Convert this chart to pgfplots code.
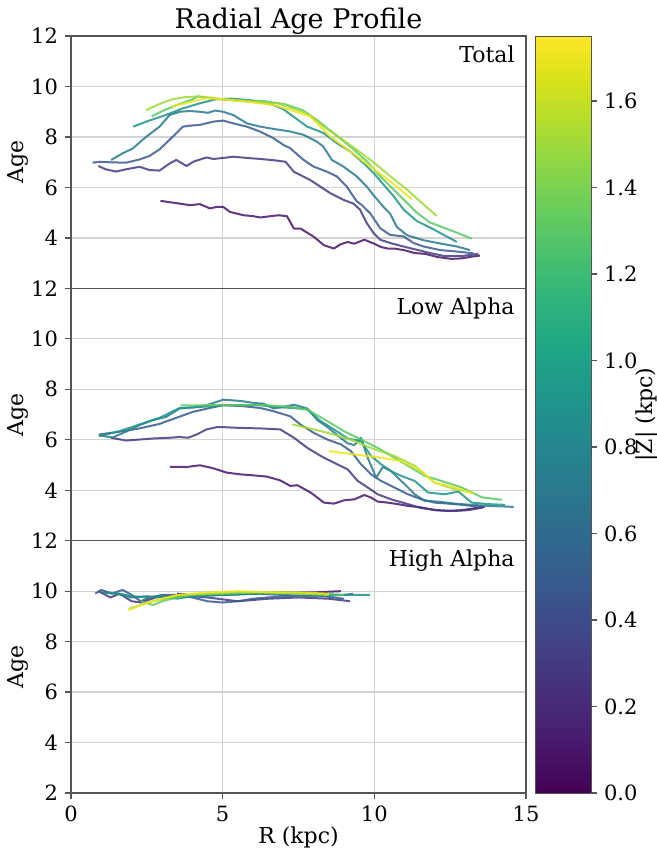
\documentclass[border=0pt]{standalone}
\usepackage{pgfplots}
\pgfplotsset{compat=1.18}
\usepackage{fontspec}
\setmainfont{DejaVu Serif}
\definecolor{c1}{HTML}{471669}
\definecolor{c2}{HTML}{443983}
\definecolor{c3}{HTML}{375B8D}
\definecolor{c4}{HTML}{2A788E}
\definecolor{c5}{HTML}{20948B}
\definecolor{c6}{HTML}{5BC864}
\definecolor{c7}{HTML}{A0DA39}
\definecolor{c8}{HTML}{ECE51B}
\definecolor{axgray}{HTML}{555555}
\definecolor{gridgray}{HTML}{D3D3D3}
\tikzset{ptext/.style={anchor=north east, inner sep=0pt, font=\fontsize{11}{13}\selectfont, xshift=-5.5pt, yshift=-4.5pt}}
\pgfplotsset{
  panel/.style={
    scale only axis, width=227.5pt, height=126.15pt,
    xmin=0, xmax=15, ymin=2, ymax=12,
    xtick={0,5,10,15},
    grid=major, grid style={gridgray, line width=0.6pt},
    axis line style={axgray, line width=0.7pt},
    tick style={axgray, line width=0.6pt},
    tick align=outside, major tick length=3pt,
    xtick pos=bottom, ytick pos=left,
    ticklabel style={font=\fontsize{10.5}{12}\selectfont},
    label style={font=\fontsize{11}{13}\selectfont},
    /pgf/number format/assume math mode=true,
    ylabel={Age},
    ylabel style={at={(axis description cs:-0.1165,0.5)}, anchor=center},
    every axis plot/.append style={no markers, line width=1pt, opacity=0.85, line join=round},
  },
}
\begin{document}
\begin{tikzpicture}
\path[use as bounding box] (-35.5pt,-28.5pt) rectangle (293pt,396.5pt);
% ---------------- Top panel: Total ----------------
\begin{axis}[panel, at={(0pt,252.3pt)}, anchor=south west,
  ytick={4,6,8,10,12}, xticklabels={}, clip=false,
]
\addplot[c1] coordinates {(2.95,5.47)(3.92,5.30)(4.25,5.34)(4.58,5.17)(4.80,5.23)(5.02,5.23)(5.24,5.03)(5.69,4.90)(6.02,4.86)(6.24,4.81)(6.57,4.86)(6.85,4.90)(7.12,4.86)(7.35,4.37)(7.57,4.37)(8.01,4.04)(8.34,3.71)(8.67,3.58)(8.89,3.75)(9.12,3.84)(9.34,3.77)(9.67,3.93)(10.0,3.77)(10.22,3.64)(10.44,3.58)(10.66,3.58)(11.0,3.51)(11.33,3.40)(11.66,3.37)(12.10,3.24)(12.54,3.17)(12.88,3.19)(13.21,3.26)(13.48,3.30)};
\addplot[c2] coordinates {(0.90,6.85)(1.15,6.72)(1.48,6.63)(1.81,6.72)(2.26,6.82)(2.59,6.69)(2.92,6.67)(3.25,6.95)(3.47,7.09)(3.81,6.85)(4.03,7.02)(4.47,7.19)(4.69,7.13)(5.02,7.17)(5.35,7.22)(5.80,7.17)(6.24,7.13)(6.68,7.08)(7.07,7.02)(7.35,6.62)(7.88,6.30)(8.54,5.78)(8.98,5.51)(9.31,5.36)(9.53,5.12)(9.75,4.59)(9.97,4.20)(10.19,3.93)(10.52,3.80)(10.96,3.66)(11.40,3.53)(11.84,3.40)(12.28,3.29)(12.94,3.29)(13.43,3.37)};
\addplot[c3] coordinates {(0.71,6.98)(0.93,7.02)(1.26,7.00)(1.81,6.98)(2.26,7.11)(2.59,7.25)(2.92,7.51)(3.25,7.89)(3.69,8.41)(3.92,8.45)(4.25,8.48)(4.69,8.61)(5.02,8.65)(5.35,8.54)(5.80,8.41)(6.24,8.21)(6.68,7.95)(7.01,7.68)(7.22,7.56)(7.66,7.10)(7.99,6.83)(8.43,6.63)(8.76,6.44)(9.09,6.04)(9.31,5.64)(9.42,5.45)(9.58,5.31)(9.86,4.98)(10.08,4.59)(10.19,4.39)(10.52,4.12)(10.96,4.06)(11.29,3.80)(11.62,3.66)(12.17,3.52)(12.72,3.46)(13.27,3.39)};
\addplot[c4] coordinates {(1.32,7.09)(1.70,7.35)(2.04,7.55)(2.48,8.01)(2.92,8.41)(3.25,8.87)(3.58,9.00)(3.92,9.03)(4.25,9.00)(4.52,8.96)(4.75,9.05)(5.02,9.00)(5.35,8.87)(5.80,8.54)(6.24,8.41)(6.68,8.32)(7.22,8.22)(7.66,8.09)(8.10,7.82)(8.32,7.62)(8.60,7.09)(8.98,6.83)(9.42,6.44)(9.75,6.04)(9.97,5.70)(10.30,5.23)(10.52,4.96)(10.74,4.44)(11.07,4.11)(11.62,3.91)(12.17,3.78)(12.72,3.66)(13.15,3.52)};
\addplot[c5] coordinates {(2.05,8.41)(2.55,8.64)(3.10,8.86)(3.65,9.12)(4.20,9.32)(4.75,9.49)(5.30,9.52)(5.96,9.45)(6.62,9.29)(7.00,9.10)(7.40,8.75)(7.77,8.42)(8.32,8.16)(8.76,7.76)(9.20,7.43)(9.64,6.97)(9.97,6.58)(10.30,6.12)(10.63,5.66)(10.96,5.13)(11.40,4.67)(11.95,4.34)(12.72,3.84)};
\addplot[c6] coordinates {(2.66,8.82)(3.10,9.08)(3.54,9.29)(3.98,9.48)(4.20,9.61)(4.42,9.56)(4.75,9.52)(5.08,9.48)(5.74,9.45)(6.40,9.42)(7.05,9.30)(7.66,9.05)(8.10,8.68)(8.65,8.16)(9.20,7.63)(9.75,7.04)(10.19,6.45)(10.63,5.92)(10.96,5.53)(11.40,5.00)(11.84,4.61)(12.28,4.41)(12.72,4.21)(13.21,3.97)};
\addplot[c7] coordinates {(2.47,9.06)(2.88,9.29)(3.32,9.49)(3.76,9.58)(4.20,9.61)(4.64,9.56)(5.08,9.48)(5.63,9.42)(6.18,9.39)(6.84,9.33)(7.22,9.17)(7.77,8.95)(8.32,8.42)(8.87,7.96)(9.42,7.50)(9.97,7.00)(10.52,6.45)(11.07,5.92)(11.62,5.33)(12.06,4.87)};
\addplot[c8] coordinates {(3.31,9.21)(3.80,9.35)(4.47,9.54)(5.00,9.50)(5.80,9.40)(6.68,9.27)(7.22,9.08)(7.88,8.82)(8.54,8.03)(9.20,7.43)(9.86,6.84)(10.52,6.25)(11.24,5.53)};
\node[ptext] at (rel axis cs:1,1) {Total};
\node[anchor=base, inner sep=0pt, font=\fontsize{13.5}{15}\selectfont, yshift=4pt] at (rel axis cs:0.5,1) {Radial Age Profile};
\end{axis}
% ---------------- Middle panel: Low Alpha ----------------
\begin{axis}[panel, at={(0pt,126.15pt)}, anchor=south west,
  ytick={4,6,8,10,12}, xticklabels={}]
\addplot[c1] coordinates {(3.27,4.93)(3.81,4.92)(4.25,4.99)(4.69,4.87)(5.13,4.70)(5.58,4.63)(6.02,4.59)(6.46,4.54)(6.90,4.39)(7.23,4.17)(7.46,4.20)(7.90,3.91)(8.34,3.51)(8.67,3.47)(9.00,3.60)(9.34,3.64)(9.67,3.81)(9.89,3.71)(10.11,3.55)(10.44,3.51)(10.77,3.45)(11.11,3.38)(11.55,3.32)(11.99,3.21)(12.43,3.18)(12.88,3.21)(13.32,3.29)(13.60,3.34)};
\addplot[c2] coordinates {(1.32,6.08)(1.81,5.97)(2.26,6.01)(2.70,6.05)(3.25,6.08)(3.58,6.11)(3.86,6.08)(4.14,6.21)(4.47,6.41)(4.80,6.50)(5.02,6.50)(5.58,6.47)(6.24,6.45)(6.90,6.41)(7.35,6.08)(7.79,5.68)(8.23,5.36)(8.67,5.09)(9.12,4.83)(9.45,4.37)(9.78,4.11)(10.11,3.84)(10.55,3.64)(11.11,3.45)(11.55,3.29)(12.10,3.21)(12.65,3.18)(13.10,3.21)(13.60,3.32)};
\addplot[c3] coordinates {(0.93,6.21)(1.59,6.32)(2.26,6.45)(2.92,6.63)(3.47,6.87)(4.03,7.11)(4.58,7.26)(5.02,7.37)(5.69,7.33)(6.24,7.26)(6.68,7.13)(7.23,6.93)(7.57,6.60)(8.01,6.27)(8.45,6.01)(8.89,5.82)(9.23,5.55)(9.56,5.03)(9.89,4.63)(10.22,4.37)(10.66,4.11)(11.11,3.84)(11.55,3.64)(11.99,3.51)(12.65,3.45)(13.21,3.38)(13.65,3.34)};
\addplot[c4] coordinates {(0.91,6.18)(1.37,6.09)(1.81,6.32)(2.26,6.58)(2.70,6.78)(3.14,6.91)(3.58,7.24)(4.03,7.28)(4.47,7.37)(5.02,7.59)(5.58,7.54)(6.02,7.46)(6.35,7.43)(6.68,7.24)(7.12,7.33)(7.35,7.39)(7.79,7.24)(8.12,6.78)(8.45,6.51)(8.78,6.18)(9.12,5.86)(9.34,5.79)(9.56,6.08)(9.78,5.29)(10.06,4.50)(10.28,4.92)(10.55,4.76)(10.77,4.50)(11.00,4.24)(11.33,3.84)(11.66,3.58)(12.10,3.55)(12.65,3.47)(13.21,3.42)(13.76,3.38)(14.59,3.34)};
\addplot[c5] coordinates {(0.93,6.14)(1.59,6.34)(2.26,6.61)(2.92,6.87)(3.58,7.26)(4.25,7.30)(5.02,7.37)(6.24,7.37)(6.79,7.29)(7.35,7.26)(7.79,7.20)(8.23,6.74)(8.67,6.41)(9.12,6.05)(9.56,5.95)(9.89,5.36)(10.22,5.03)(10.55,4.76)(10.88,4.57)(11.33,4.37)(11.77,3.91)(12.32,3.84)(12.77,3.95)(13.21,3.51)(13.76,3.45)(14.31,3.42)};
\addplot[c6] coordinates {(3.61,7.36)(4.58,7.37)(5.69,7.37)(6.46,7.37)(7.35,7.29)(7.79,7.20)(8.45,6.74)(9.00,6.34)(9.56,6.01)(10.11,5.68)(10.66,5.29)(11.22,4.89)(11.66,4.57)(12.21,4.37)(12.88,4.11)(13.54,3.72)(14.20,3.62)};
\addplot[c7] coordinates {(7.29,6.61)(8.01,6.41)(8.67,6.21)(9.34,5.95)(10.00,5.62)(10.66,5.36)(11.33,4.97)(11.99,4.30)(12.65,4.04)(13.26,3.91)};
\addplot[c8] coordinates {(8.51,5.55)(9.34,5.42)(10.22,5.29)(10.88,5.16)(11.55,4.76)(11.99,4.30)(12.65,4.11)(13.26,3.87)};
\node[ptext] at (rel axis cs:1,1) {Low Alpha};
\end{axis}
% ---------------- Bottom panel: High Alpha ----------------
\begin{axis}[panel, at={(0pt,0pt)}, anchor=south west,
  ytick={2,4,6,8,10,12}, xlabel={R (kpc)},
  xlabel style={at={(axis description cs:0.5,0)}, anchor=center, yshift=-22pt}]
\addplot[c1] coordinates {(3.5,9.90)(4.2,9.85)(5.0,9.85)(6.0,9.90)(7.0,9.95)(8.0,9.95)(8.9,10.00)};
\addplot[c2] coordinates {(0.90,10.00)(1.30,9.75)(1.60,9.90)(2.00,9.60)(2.30,9.55)(2.80,9.75)(3.50,9.85)(4.50,9.75)(5.50,9.60)(6.50,9.70)(7.50,9.75)(8.50,9.70)(9.20,9.60)};
\addplot[c3] coordinates {(0.80,9.90)(1.00,10.05)(1.35,9.90)(1.70,10.05)(2.00,9.85)(2.30,9.60)(2.60,9.75)(3.00,9.85)(3.50,9.85)(4.00,9.75)(4.50,9.60)(5.00,9.55)(5.50,9.60)(6.00,9.70)(7.00,9.80)(8.00,9.85)(9.00,9.70)};
\addplot[c4] coordinates {(1.00,9.95)(1.50,9.90)(2.00,9.75)(2.50,9.80)(3.00,9.75)(4.00,9.80)(5.00,9.85)(6.00,9.90)(7.00,9.85)(8.00,9.80)(9.00,9.85)(9.30,9.90)};
\addplot[c5] coordinates {(1.20,9.95)(1.60,9.90)(2.00,9.80)(2.50,9.75)(3.00,9.80)(3.50,9.70)(4.00,9.80)(5.00,9.85)(6.00,9.90)(7.00,9.95)(8.00,9.90)(9.00,9.85)(9.85,9.85)};
\addplot[c6] coordinates {(2.30,9.60)(2.70,9.45)(3.00,9.60)(3.50,9.75)(4.00,9.85)(5.00,9.90)(6.00,9.95)(7.00,9.95)(8.00,9.90)(9.00,9.85)};
\addplot[c7] coordinates {(1.90,9.30)(2.30,9.45)(2.70,9.60)(3.10,9.70)(3.60,9.85)(4.50,9.90)(5.50,9.95)(6.50,9.95)(7.50,9.90)(8.50,9.85)};
\addplot[c8] coordinates {(1.90,9.25)(2.30,9.45)(2.80,9.65)(3.50,9.85)(4.50,9.95)(5.50,10.00)(6.50,9.95)(7.50,9.95)(8.50,9.90)};
\node[ptext] at (rel axis cs:1,1) {High Alpha};
\end{axis}
% ---------------- Colorbar ----------------
\begin{axis}[at={(232pt,0pt)}, anchor=south west, scale only axis,
  width=28pt, height=378.45pt,
  xmin=0, xmax=1, ymin=0, ymax=1.75, xtick=\empty,
  ytick={0,0.2,0.4,0.6,0.8,1.0,1.2,1.4,1.6},
  ytick pos=right, yticklabel pos=right,
  tick align=outside, major tick length=3pt,
  tick style={axgray, line width=0.6pt},
  axis line style={axgray, line width=0.5pt},
  axis on top,
  colormap/viridis, point meta min=0, point meta max=1.75,
  yticklabel style={font=\fontsize{10.5}{12}\selectfont, /pgf/number format/.cd, fixed, fixed zerofill, precision=1, assume math mode=true},
  ylabel={|Z| (kpc)},
  ylabel style={font=\fontsize{11}{13}\selectfont, at={(axis description cs:2.0,0.5)}, anchor=center},
]
\addplot[surf, shader=interp, point meta=y, mesh/cols=2] coordinates {
(0,0)(1,0)(0,0.125)(1,0.125)(0,0.25)(1,0.25)(0,0.375)(1,0.375)(0,0.5)(1,0.5)(0,0.625)(1,0.625)(0,0.75)(1,0.75)(0,0.875)(1,0.875)(0,1.0)(1,1.0)(0,1.125)(1,1.125)(0,1.25)(1,1.25)(0,1.375)(1,1.375)(0,1.5)(1,1.5)(0,1.625)(1,1.625)(0,1.75)(1,1.75)};
\end{axis}
\end{tikzpicture}
\end{document}
